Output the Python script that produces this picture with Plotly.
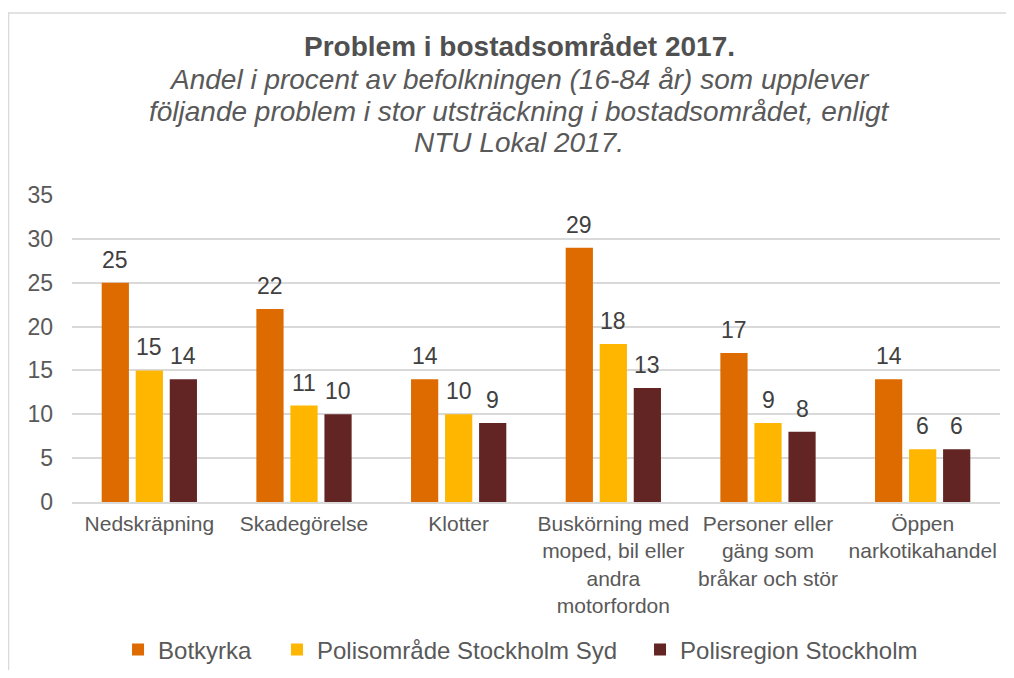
import plotly.graph_objects as go

# Categories and series values
categories = [
    "Nedskräpning",
    "Skadegörelse",
    "Klotter",
    "Buskörning med<br>moped, bil eller<br>andra<br>motorfordon",
    "Personer eller<br>gäng som<br>bråkar och stör",
    "Öppen<br>narkotikahandel",
]
botkyrka = [25, 22, 14, 29, 17, 14]
polisomrade_syd = [15, 11, 10, 18, 9, 6]
polisregion_sthlm = [14, 10, 9, 13, 8, 6]

series_names = ["Botkyrka", "Polisområde Stockholm Syd", "Polisregion Stockholm"]
series_values = [botkyrka, polisomrade_syd, polisregion_sthlm]
series_colors = ["#DD6B00", "#FFB600", "#632523"]
legend_ids = ["legend", "legend2", "legend3"]
legend_x = [0.0496, 0.2209, 0.6121]

font_family = "Liberation Sans, Arial, sans-serif"

fig = go.Figure()
for name, vals, color, lg in zip(series_names, series_values, series_colors, legend_ids):
    fig.add_trace(
        go.Bar(
            x=categories,
            y=vals,
            name=name,
            legend=lg,
            marker=dict(color=color, line_width=0),
        )
    )

# value labels above the bars (slot width in px follows bargap/bargroupgap)
slot_px = 34
labels = []
for i, vals in enumerate(series_values):
    for cat, v in zip(categories, vals):
        labels.append(
            dict(
                x=cat,
                y=v,
                xref="x",
                yref="y",
                text=str(v),
                showarrow=False,
                xshift=(i - 1) * slot_px,
                yshift=8,
                yanchor="bottom",
                font=dict(size=23, color="#404040", family=font_family),
            )
        )

title_lines = [
    "Andel i procent av befolkningen (16-84 år) som upplever",
    "följande problem i stor utsträckning i bostadsområdet, enligt",
    "NTU Lokal 2017.",
]
title_y = [1.3746, 1.2736, 1.1726]

titles = [
    dict(
        text="<b>Problem i bostadsområdet 2017.</b>",
        xref="paper",
        yref="paper",
        x=0.4817,
        y=1.485,
        xanchor="center",
        yanchor="middle",
        showarrow=False,
        font=dict(size=28, color="#505050", family=font_family),
    )
]
for line, yy in zip(title_lines, title_y):
    titles.append(
        dict(
            text="<i>" + line + "</i>",
            xref="paper",
            yref="paper",
            x=0.4817,
            y=yy,
            xanchor="center",
            yanchor="middle",
            showarrow=False,
            font=dict(size=28, color="#595959", family=font_family),
        )
    )

legend_style = dict(
    orientation="h",
    xanchor="left",
    y=-0.482,
    yanchor="middle",
    font=dict(size=24, color="#595959"),
    itemwidth=30,
    bgcolor="rgba(0,0,0,0)",
)

fig.update_layout(
    width=998,
    height=662,
    barmode="group",
    bargap=0.34,
    bargroupgap=0.2,
    plot_bgcolor="white",
    paper_bgcolor="white",
    font=dict(family=font_family, color="#595959", size=21),
    margin=dict(l=64, r=6, t=187, b=168, autoexpand=False),
    showlegend=True,
    legend=dict(x=legend_x[0], **legend_style),
    legend2=dict(x=legend_x[1], **legend_style),
    legend3=dict(x=legend_x[2], **legend_style),
    xaxis=dict(
        showgrid=False,
        showline=True,
        linecolor="#D9D9D9",
        linewidth=1.5,
        ticks="",
        ticklabelstandoff=2,
        tickfont=dict(size=21, color="#595959"),
    ),
    yaxis=dict(
        range=[0, 35],
        dtick=5,
        showgrid=True,
        gridcolor="#D9D9D9",
        gridwidth=1.5,
        zeroline=False,
        ticks="",
        ticklabelstandoff=18,
        tickfont=dict(size=23, color="#595959"),
    ),
    shapes=[
        dict(
            type="rect",
            xref="paper",
            yref="paper",
            x0=-0.0684,
            x1=1.05,
            y0=-1.0,
            y1=1.593,
            line=dict(color="#D9D9D9", width=1.5),
            fillcolor="rgba(0,0,0,0)",
            layer="below",
        )
    ],
    annotations=titles + labels,
)

fig.write_html("out.html")
